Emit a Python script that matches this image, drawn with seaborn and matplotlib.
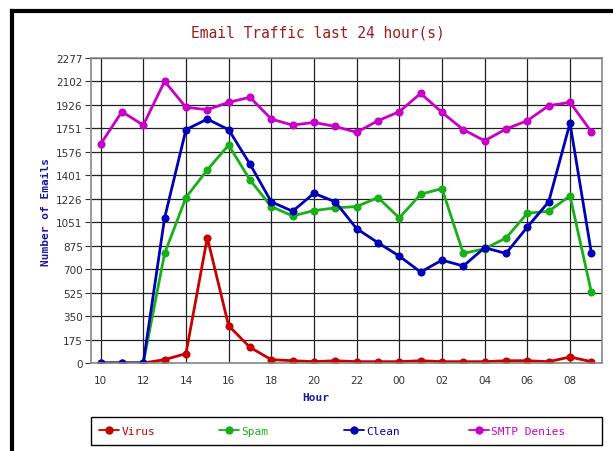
import matplotlib
matplotlib.use("Agg")
import matplotlib.pyplot as plt
import seaborn as sns
import pandas as pd
import numpy as np
from matplotlib.lines import Line2D
from matplotlib.patches import Rectangle

hours = ["10", "11", "12", "13", "14", "15", "16", "17", "18", "19", "20", "21",
         "22", "23", "00", "01", "02", "03", "04", "05", "06", "07", "08", "09"]
virus = [0, 0, 0, 25, 70, 936, 279, 117, 25, 17, 10, 17,
         10, 10, 10, 17, 10, 10, 10, 17, 17, 10, 45, 10]
spam = [0, 0, 0, 818, 1235, 1442, 1627, 1367, 1168, 1098, 1138, 1158,
        1168, 1235, 1083, 1260, 1302, 818, 853, 933, 1118, 1133, 1248, 529]
clean = [0, 0, 0, 1083, 1742, 1821, 1742, 1485, 1203, 1133, 1267, 1203,
         1003, 898, 798, 679, 768, 724, 861, 818, 1015, 1203, 1791, 823]
smtp = [1634, 1876, 1776, 2103, 1909, 1891, 1946, 1984, 1821, 1776, 1796, 1766,
        1722, 1809, 1876, 2013, 1871, 1742, 1659, 1747, 1809, 1921, 1946, 1727]
series_names = ["Virus", "Spam", "Clean", "SMTP Denies"]
ytick_labels = ["0", "175", "350", "525", "700", "875", "1051", "1226", "1401",
                "1576", "1751", "1926", "2102", "2277"]
ymax = 2277

colors = {"Virus": "#c80000", "Spam": "#18b018", "Clean": "#0000b4", "SMTP Denies": "#c800c8"}

rows = []
for name, vals in zip(series_names, [virus, spam, clean, smtp]):
    for i, v in enumerate(vals):
        rows.append({"idx": i, "value": v, "series": name})
df = pd.DataFrame(rows)

sns.set_style("white")
plt.rcParams['font.family'] = ['DejaVu Sans']

fig = plt.figure(figsize=(6.13, 4.52), dpi=100)
ax = fig.add_axes([91/613, 1-364/452, (602-91)/613, (364-59)/452])

sns.lineplot(data=df, x="idx", y="value", hue="series", palette=colors,
             hue_order=series_names, marker="o", markersize=5.8, linewidth=2.0,
             markeredgewidth=0, ax=ax, legend=False)

ax.set_xlim(-0.45, 23.5)
ax.set_ylim(0, ymax)
yt = [i * ymax / 13 for i in range(14)]
ax.set_yticks(yt)
ax.set_yticklabels(ytick_labels, fontsize=7.5, color="#333333")
xt = list(range(0, 24, 2))
ax.set_xticks(xt)
ax.set_xticklabels([hours[i] for i in xt], fontsize=7.5, color="#333333")
ax.tick_params(axis="y", left=True, length=4, width=0.8, color="#333333", pad=2)
ax.tick_params(axis="x", bottom=False, pad=5)
ax.grid(True, color="#222222", linewidth=0.9)
ax.set_axisbelow(True)
for s in ax.spines.values():
    s.set_color("#888888")
    s.set_linewidth(1.2)

ax.set_xlabel("Hour", fontsize=8, fontweight="bold", color="#1a1a99",
              family="DejaVu Sans Mono")
ax.xaxis.set_label_coords((316 - 91) / (602 - 91), -(398 - 364) / (364 - 59))
ax.xaxis.label.set_va("center")
ax.set_ylabel("Number of Emails", fontsize=8, fontweight="bold", color="#1a1a99",
              family="DejaVu Sans Mono", labelpad=4)

fig.text(318 / 613, 1 - 33/452, "Email Traffic last 24 hour(s)",
         ha="center", va="center", fontsize=10.5, color="#a01c1c",
         family="DejaVu Sans Mono")

# outer frame (left and top)
fig.add_artist(Line2D([11.5/613, 11.5/613], [0, 1 - 11.5/452], transform=fig.transFigure,
                      color="black", linewidth=3, solid_capstyle="projecting"))
fig.add_artist(Line2D([11.5/613, 1], [1 - 11.5/452, 1 - 11.5/452], transform=fig.transFigure,
                      color="black", linewidth=3, solid_capstyle="projecting"))

# legend box
fig.add_artist(Rectangle((91/613, 1 - 446/452), (602-91)/613, 28/452,
                         transform=fig.transFigure, fill=False, edgecolor="black",
                         linewidth=1.0))
leg_x = [99, 219, 344, 469]
for n, lx in zip(series_names, leg_x):
    h = Line2D([0], [0], color=colors[n], marker="o", markersize=6, linewidth=1.3,
               markeredgewidth=0)
    lg = fig.legend([h], [n], loc="center left", bbox_to_anchor=(lx/613, 1 - 432/452),
                    frameon=False, handlelength=1.8, handletextpad=0.2,
                    borderpad=0, borderaxespad=0,
                    prop={"family": "DejaVu Sans Mono", "size": 8})
    lg.get_texts()[0].set_color(colors[n])

fig.savefig("out.png", dpi=100)
